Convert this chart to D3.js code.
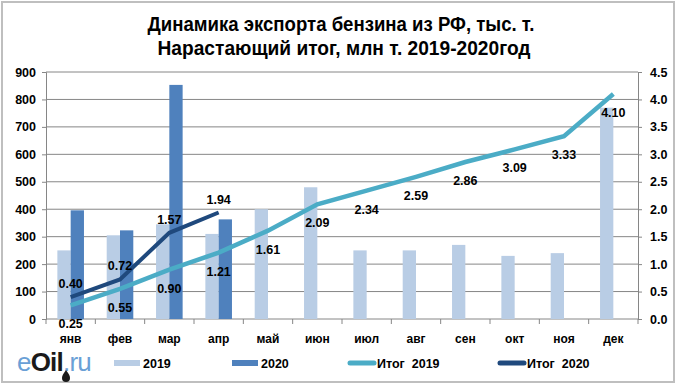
<!DOCTYPE html>
<html>
<head>
<meta charset="utf-8">
<script src="https://cdn.jsdelivr.net/npm/d3@7"></script>
<style>
  body { margin: 0; background: #fff; }
  svg text { font-family: "Liberation Sans", Arial, sans-serif; }
</style>
</head>
<body>
<svg id="chart" width="682" height="389"></svg>
<script>
const months = ["янв", "фев", "мар", "апр", "май", "июн", "июл", "авг", "сен", "окт", "ноя", "дек"]
const exp2019 = [250, 305, 345, 310, 400, 480, 250, 250, 270, 230, 240, 770]
const exp2020 = [396, 323, 853, 363]
const total2019 = [0.25, 0.55, 0.90, 1.21, 1.61, 2.09, 2.34, 2.59, 2.86, 3.09, 3.33, 4.10]
const total2020 = [0.40, 0.72, 1.57, 1.94]
const leftTicks = [0, 100, 200, 300, 400, 500, 600, 700, 800, 900]
const rightTicks = [0, 0.5, 1, 1.5, 2, 2.5, 3, 3.5, 4, 4.5]

const c2019 = "#b9cde5", c2020 = "#4f81bd", cLine19 = "#4bacc6", cLine20 = "#1f497d"

const svg = d3.select("#chart")
const margin = {top: 72, right: 44, bottom: 70, left: 46}
const W = 682, H = 389
const x0 = margin.left, x1 = W - margin.right, y0 = H - margin.bottom, y1 = margin.top

// chart frame
svg.append("rect")
    .attr("x", 2).attr("y", 2).attr("width", 672).attr("height", 380)
    .attr("fill", "#fff").attr("stroke", "#bfbfbf").attr("stroke-width", 2)

// title (narrow bold, stretched to the width seen in the picture)
const title = svg.append("text")
    .attr("text-anchor", "middle")
    .attr("font-size", 20).attr("font-weight", "bold").attr("fill", "#000")
title.append("tspan").attr("x", 341).attr("y", 31)
    .attr("textLength", 387).attr("lengthAdjust", "spacingAndGlyphs")
    .text("Динамика экспорта бензина из РФ, тыс. т.")
title.append("tspan").attr("x", 344).attr("y", 55)
    .attr("textLength", 373).attr("lengthAdjust", "spacingAndGlyphs")
    .text("Нарастающий итог, млн т. 2019-2020год")

const xScale = d3.scaleBand().domain(months).range([x0, x1])
const yLeft = d3.scaleLinear().domain([0, 900]).range([y0, y1])
const yRight = d3.scaleLinear().domain([0, 4.5]).range([y0, y1])
const barW = 13.3

// grid
svg.append("g").selectAll("line").data(leftTicks.slice(1)).join("line")
    .attr("x1", x0).attr("x2", x1)
    .attr("y1", d => yLeft(d)).attr("y2", d => yLeft(d))
    .attr("stroke", "#868686").attr("stroke-width", 1)

// axes
const axisL = svg.append("g").attr("transform", `translate(${x0},0)`)
    .call(d3.axisLeft(yLeft).tickValues(leftTicks).tickSize(4).tickPadding(6))
const axisR = svg.append("g").attr("transform", `translate(${x1},0)`)
    .call(d3.axisRight(yRight).tickValues(rightTicks).tickSize(4).tickPadding(8).tickFormat(d3.format(".1f")))
const axisB = svg.append("g").attr("transform", `translate(0,${y0})`)
    .call(d3.axisBottom(xScale).tickSize(0).tickPadding(15))
axisB.select(".domain").remove()
svg.append("g").selectAll("line").data(d3.range(months.length + 1)).join("line")
    .attr("x1", i => x0 + i * xScale.step()).attr("x2", i => x0 + i * xScale.step())
    .attr("y1", y0).attr("y2", y0 + 5)
    .attr("stroke", "#868686")
svg.append("line").attr("x1", x0).attr("x2", x1).attr("y1", y0).attr("y2", y0).attr("stroke", "#868686")

;[axisL, axisR, axisB].forEach(a => {
    a.selectAll(".domain, .tick line").attr("stroke", "#868686")
    a.selectAll("text").attr("font-size", 12.5).attr("font-weight", "bold").attr("fill", "#000")
        .style("font-family", "'Liberation Sans', Arial, sans-serif")
})
axisB.selectAll("text").attr("font-size", 12)

// bars
const center = m => xScale(m) + xScale.bandwidth() / 2
svg.append("g").selectAll("rect").data(exp2019).join("rect")
    .attr("x", (d, i) => center(months[i]) - barW)
    .attr("y", d => yLeft(d)).attr("width", barW).attr("height", d => y0 - yLeft(d))
    .attr("fill", c2019)
svg.append("g").selectAll("rect").data(exp2020).join("rect")
    .attr("x", (d, i) => center(months[i]))
    .attr("y", d => yLeft(d)).attr("width", barW).attr("height", d => y0 - yLeft(d))
    .attr("fill", c2020)

// lines
const line = d3.line().x((d, i) => center(months[i])).y(d => yRight(d))
svg.append("path").datum(total2019).attr("d", line)
    .attr("fill", "none").attr("stroke", cLine19).attr("stroke-width", 4.5)
svg.append("path").datum(total2020).attr("d", line)
    .attr("fill", "none").attr("stroke", cLine20).attr("stroke-width", 4)

// labels
const labelFmt = d3.format(".2f")
svg.append("g").selectAll("text").data(total2019).join("text")
    .attr("x", (d, i) => center(months[i])).attr("y", d => yRight(d) + 23)
    .attr("text-anchor", "middle").attr("font-size", 12.5).attr("font-weight", "bold")
    .text(d => labelFmt(d))
svg.append("g").selectAll("text").data(total2020).join("text")
    .attr("x", (d, i) => center(months[i])).attr("y", d => yRight(d) - 9)
    .attr("text-anchor", "middle").attr("font-size", 12.5).attr("font-weight", "bold")
    .text(d => labelFmt(d))

// legend
const legend = [
    {name: "2019", color: c2019, x: 114, type: "rect"},
    {name: "2020", color: c2020, x: 232, type: "rect"},
    {name: "Итог  2019", color: cLine19, x: 348, type: "line"},
    {name: "Итог  2020", color: cLine20, x: 498, type: "line"},
]
const lg = svg.append("g").selectAll("g").data(legend).join("g")
    .attr("transform", d => `translate(${d.x},363)`)
lg.filter(d => d.type === "rect").append("rect")
    .attr("x", 0).attr("y", -3).attr("width", 26).attr("height", 6).attr("fill", d => d.color)
lg.filter(d => d.type === "line").append("line")
    .attr("x1", 2).attr("x2", 26).attr("y1", 0).attr("y2", 0)
    .attr("stroke", d => d.color).attr("stroke-width", 5).attr("stroke-linecap", "round")
lg.append("text").attr("x", 29).attr("y", 5)
    .attr("font-size", 12.5).attr("font-weight", "bold").attr("xml:space", "preserve")
    .style("white-space", "pre")
    .text(d => d.name)

// eOil.ru logo
const logo = svg.append("text").attr("x", 17).attr("y", 371)
    .attr("font-size", 26).attr("letter-spacing", -0.8)
logo.append("tspan").attr("fill", "#6aa0d6").text("e")
logo.append("tspan").attr("fill", "#1a1a1a").attr("font-weight", "bold").text("Oil")
logo.append("tspan").attr("fill", "#6aa0d6").text(".ru")
svg.append("path")
    .attr("d", "M66,370 C63,374 62,376 62,378 A4,4 0 0 0 70,378 C70,376 69,374 66,370 Z")
    .attr("fill", "#1a1a1a")
</script>
</body>
</html>
